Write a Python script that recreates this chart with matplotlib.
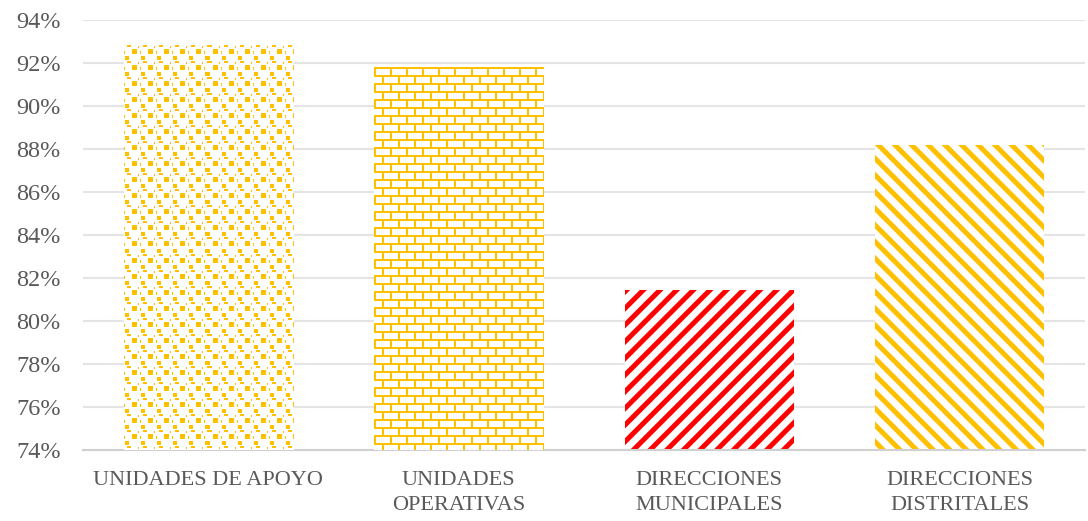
import numpy as np
import matplotlib
matplotlib.use("Agg")
import matplotlib.pyplot as plt

categories = ["UNIDADES DE APOYO", "UNIDADES\nOPERATIVAS", "DIRECCIONES\nMUNICIPALES", "DIRECCIONES\nDISTRITALES"]
values = [92.8, 91.8, 81.45, 88.2]
yticks = [74, 76, 78, 80, 82, 84, 86, 88, 90, 92, 94]
ytick_labels = [f"{v}%" for v in yticks]

YELLOW = "#FFC000"
RED = "#FF0000"
TEXT = "#595959"

plt.rcParams["font.family"] = ["Liberation Serif", "DejaVu Serif"]
plt.rcParams["hatch.linewidth"] = 3.6

W, H, DPI = 1088, 521, 100
fig = plt.figure(figsize=(W / DPI, H / DPI), dpi=DPI)
ax = fig.add_axes([83 / W, 1 - 450 / H, (1085 - 83) / W, (450 - 20) / H])
ax.set_xlim(-0.5, len(categories) - 0.5)
ax.set_ylim(74, 94)

x = np.arange(len(categories))
bw = 0.675
bars = ax.bar(x, np.array(values) - 74, bottom=74, width=bw, color="white",
              edgecolor="none", zorder=2)


def tile_dots():
    t = np.zeros((16, 16), bool)
    t[4:9, 8:13] = True      # big square
    t[11:15, 1:5] = True     # small square
    t[0:2, 3:7] = True       # dash
    t[6:9, 0:1] = True       # vertical dash
    t[1:3, 14:15] = True
    return t


def tile_bricks():
    t = np.zeros((16, 16), bool)
    t[0:2, :] = True
    t[8:10, :] = True
    t[0:8, 0:2] = True
    t[8:16, 8:10] = True
    return t


def pattern_image(bar, tile, color):
    fig.canvas.draw()
    x0, y0 = bar.get_x(), bar.get_y()
    x1, y1 = x0 + bar.get_width(), y0 + bar.get_height()
    (px0, py0), (px1, py1) = ax.transData.transform([(x0, y0), (x1, y1)])
    wpx, hpx = int(round(px1 - px0)), int(round(py1 - py0))
    reps = (hpx // tile.shape[0] + 2, wpx // tile.shape[1] + 2)
    big = np.tile(tile, reps)[:hpx, :wpx]
    rgba = np.ones((hpx, wpx, 4))
    c = np.array(matplotlib.colors.to_rgba(color))
    rgba[big] = c
    ax.imshow(rgba, extent=[x0, x1, y0, y1], aspect="auto",
              interpolation="nearest", zorder=3, origin="upper")


pattern_image(bars[0], tile_dots(), YELLOW)
pattern_image(bars[1], tile_bricks(), YELLOW)
ax.set_xlim(-0.5, len(categories) - 0.5)
ax.set_ylim(74, 94)

bars[2].set_hatch("//")
bars[2].set_edgecolor(RED)
bars[2].set_linewidth(0)
bars[3].set_hatch("\\\\")
bars[3].set_edgecolor(YELLOW)
bars[3].set_linewidth(0)

ax.set_yticks(yticks)
ax.set_yticklabels(ytick_labels)
ax.set_xticks(x)
ax.set_xticklabels(categories)
for lab in ax.get_xticklabels():
    lab.set_linespacing(1.45)
ax.tick_params(axis="y", length=0, pad=16, labelsize=17.5, labelcolor=TEXT)
ax.tick_params(axis="x", length=0, pad=15, labelsize=16, labelcolor=TEXT)
ax.grid(axis="y", color="#E4E4E4", linewidth=1.5, zorder=0)
ax.set_axisbelow(True)
for s in ["top", "right", "left"]:
    ax.spines[s].set_visible(False)
ax.spines["bottom"].set_color("#D0D0D0")
ax.spines["bottom"].set_linewidth(1.5)

fig.savefig("out.png", dpi=DPI)
